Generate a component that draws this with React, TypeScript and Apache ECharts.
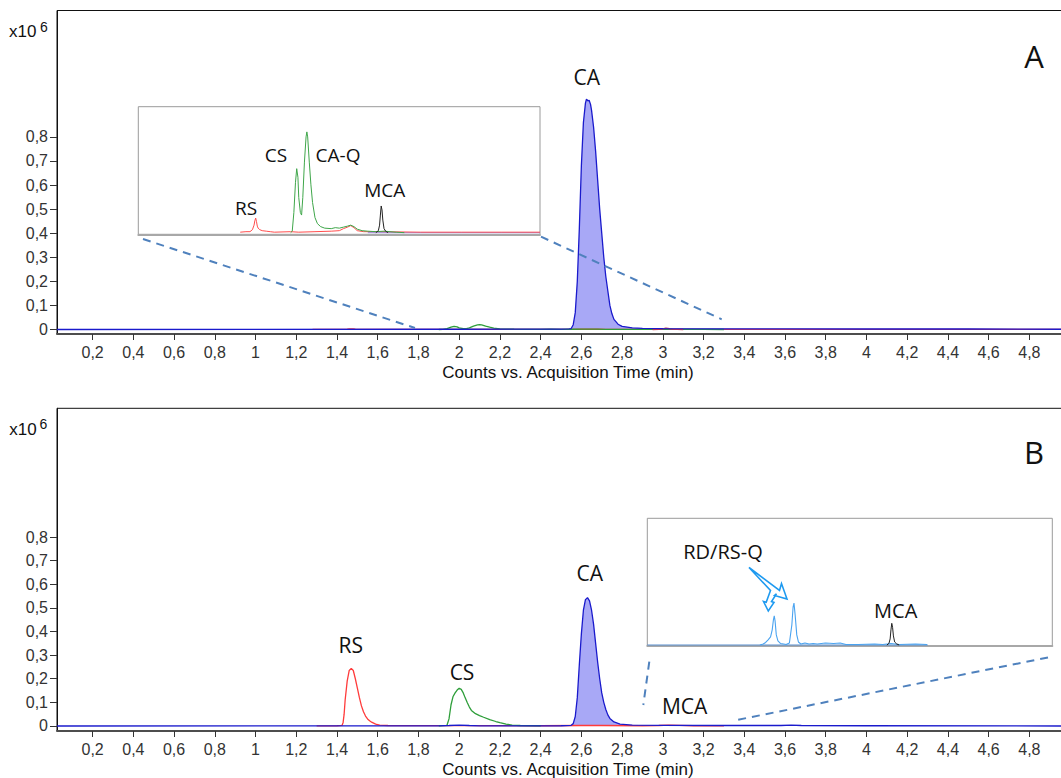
import React, { useEffect, useRef } from "react";
import * as echarts from "echarts";

// ---------- data ----------
const X_MIN = 0.025;
const X_MAX = 4.97;
const xTicks = [0.2, 0.4, 0.6, 0.8, 1, 1.2, 1.4, 1.6, 1.8, 2, 2.2, 2.4, 2.6, 2.8, 3, 3.2, 3.4, 3.6, 3.8, 4, 4.2, 4.4, 4.6, 4.8];
const yTicks = [0, 0.1, 0.2, 0.3, 0.4, 0.5, 0.6, 0.7, 0.8];

// Panel A (x10^6 counts)
const caA: [number, number][] = [
  [0.025, 0], [1.0, 0.0005], [2.0, 0.001], [2.5, 0.0015], [2.54, 0.003], [2.55, 0.004], [2.56, 0.02], [2.57, 0.07],
  [2.58, 0.2], [2.59, 0.42], [2.6, 0.68], [2.61, 0.86], [2.62, 0.94], [2.625, 0.957], [2.632, 0.95], [2.638, 0.952],
  [2.645, 0.935], [2.65, 0.91], [2.66, 0.84], [2.67, 0.74], [2.68, 0.62], [2.69, 0.5], [2.7, 0.4], [2.71, 0.3],
  [2.72, 0.22], [2.73, 0.16], [2.74, 0.1], [2.75, 0.065], [2.76, 0.042], [2.78, 0.022], [2.8, 0.013], [2.85, 0.007],
  [2.9, 0.005], [3.0, 0.004], [3.3, 0.003], [3.6, 0.003], [4.0, 0.002], [4.5, 0.002], [4.97, 0.001],
];
const rsA: [number, number][] = [
  [1.28, 0.0001], [1.35, 0.0002], [1.4, 0.0002], [1.43, 0.0006], [1.45, 0.0015], [1.46, 0.0024], [1.47, 0.0029],
  [1.48, 0.0022], [1.49, 0.0013], [1.5, 0.0009], [1.52, 0.0006], [1.55, 0.0004], [1.6, 0.0003], [1.65, 0.0002],
  [1.7, 0.0001], [1.9, 0.0002], [2.0, 0.0001], [2.2, 0.0002], [2.4, 0.0003], [2.5, 0.0004], [2.55, 0.0008],
  [2.6, 0.0011], [2.64, 0.0014], [2.68, 0.001], [2.72, 0.0004], [2.8, 0.0002], [3.0, 0.0002], [3.5, 0.0001],
  [4.0, 0.0001], [4.5, 0.0001], [4.97, 0.0001],
];
const csCaqA: [number, number][] = [
  [1.9, 0], [1.92, 0.0003], [1.94, 0.004], [1.96, 0.01], [1.975, 0.0127], [1.99, 0.011], [2.0, 0.007], [2.02, 0.004],
  [2.035, 0.0035], [2.05, 0.007], [2.07, 0.014], [2.09, 0.019], [2.1, 0.02], [2.11, 0.019], [2.13, 0.014],
  [2.15, 0.0095], [2.17, 0.006], [2.2, 0.003], [2.23, 0.0018], [2.27, 0.0012], [2.32, 0.0009], [2.4, 0.0008],
  [2.45, 0.001], [2.5, 0.0009], [2.55, 0.0011], [2.6, 0.0013], [2.64, 0.0015], [2.68, 0.0012], [2.72, 0.0007],
  [2.78, 0.0004], [2.85, 0.0003], [2.95, 0.0002], [3.05, 0.0003], [3.2, 0.0001], [3.3, 0],
];
const mcaA: [number, number][] = [
  [2.95, 0], [2.98, 0.0004], [2.995, 0.0015], [3.005, 0.0035], [3.015, 0.0053], [3.025, 0.0045], [3.035, 0.0025],
  [3.05, 0.0008], [3.07, 0.0003], [3.1, 0],
];
const insetBaseA: [number, number][] = [[2.85, 0], [4.97, 0]];

// Panel B (x10^6 counts)
const caB: [number, number][] = [
  [0.025, 0], [1.9, 0.0005], [1.95, 0.002], [2.0, 0.004], [2.05, 0.002], [2.1, 0.0008], [2.5, 0.001], [2.55, 0.003],
  [2.56, 0.01], [2.57, 0.04], [2.58, 0.12], [2.59, 0.26], [2.6, 0.39], [2.61, 0.49], [2.62, 0.535], [2.63, 0.543],
  [2.64, 0.53], [2.65, 0.49], [2.66, 0.43], [2.67, 0.35], [2.68, 0.27], [2.69, 0.2], [2.7, 0.14], [2.71, 0.1],
  [2.72, 0.07], [2.73, 0.047], [2.74, 0.032], [2.76, 0.017], [2.79, 0.008], [2.85, 0.004], [3.0, 0.003],
  [3.3, 0.002], [3.58, 0.002], [3.63, 0.004], [3.68, 0.002], [4.0, 0.001], [4.97, 0],
];
const rsB: [number, number][] = [
  [1.3, 0.0005], [1.4, 0.001], [1.425, 0.003], [1.43, 0.015], [1.435, 0.05], [1.44, 0.11], [1.45, 0.19],
  [1.46, 0.235], [1.47, 0.244], [1.48, 0.235], [1.49, 0.2], [1.5, 0.16], [1.51, 0.12], [1.52, 0.085],
  [1.53, 0.06], [1.54, 0.042], [1.55, 0.03], [1.56, 0.022], [1.57, 0.016], [1.59, 0.008], [1.61, 0.004],
  [1.65, 0.002], [1.8, 0.0015], [2.0, 0.0015], [2.4, 0.001], [2.6, 0.002], [2.7, 0.002], [2.9, 0.001],
  [2.98, 0.002], [3.03, 0.004], [3.08, 0.003], [3.15, 0.001], [3.3, 0.0005],
];
const csB: [number, number][] = [
  [1.9, 0.001], [1.94, 0.003], [1.95, 0.03], [1.96, 0.09], [1.97, 0.125], [1.98, 0.14], [1.99, 0.152], [2.0, 0.16],
  [2.01, 0.155], [2.02, 0.14], [2.03, 0.118], [2.04, 0.098], [2.05, 0.08], [2.06, 0.066], [2.08, 0.052],
  [2.1, 0.044], [2.12, 0.037], [2.15, 0.027], [2.18, 0.019], [2.2, 0.014], [2.23, 0.008], [2.26, 0.004],
  [2.3, 0.002], [2.4, 0.001],
];
const rdRsqB: [number, number][] = [
  [1.4, 0], [1.44, 0.0002], [1.47, 0.0005], [1.5, 0.001], [1.53, 0.0016], [1.55, 0.003], [1.565, 0.005],
  [1.575, 0.0058], [1.585, 0.0048], [1.6, 0.002], [1.62, 0.0008], [1.65, 0.0003], [1.69, 0.0002], [1.72, 0.0001],
  [1.76, 0.0004], [1.79, 0.004], [1.805, 0.0075], [1.816, 0.0083], [1.83, 0.006], [1.85, 0.002], [1.87, 0.0006],
  [1.9, 0.0002], [1.95, 0.0004], [2.0, 0.0002], [2.05, 0.0003], [2.1, 0.0002], [2.2, 0.0004], [2.3, 0.0003],
  [2.38, 0.0004], [2.45, 0.0001], [2.6, 0.0001], [2.8, 0.0002], [2.9, 0.0001], [3.0, 0.0003], [3.1, 0.0001],
  [3.3, 0.0002], [3.44, 0.0001],
];
const mcaB: [number, number][] = [
  [2.95, 0], [2.975, 0.0003], [2.99, 0.0012], [3.0, 0.003], [3.01, 0.0043], [3.02, 0.0035], [3.03, 0.0018],
  [3.045, 0.0006], [3.07, 0.0002], [3.1, 0],
];
const insetBaseB: [number, number][] = [[0.025, 0], [3.45, 0]];

// ---------- helpers ----------
const TICK_FONT = "Liberation Sans, Arial, sans-serif";
const LABEL_FONT = "Open Sans, Noto Sans, sans-serif";
const fmt = (v: number) => String(Math.round(v * 10) / 10).replace(".", ",");

const mainX = (gridIndex: number) => ({
  type: "value", gridIndex, min: X_MIN, max: X_MAX,
  axisLine: { show: true, onZero: false, lineStyle: { color: "#4d4d4d", width: 2 } },
  axisTick: { show: true, length: 6, customValues: xTicks, lineStyle: { color: "#333" } },
  axisLabel: { show: true, customValues: xTicks, margin: 10, fontFamily: TICK_FONT, fontSize: 16, color: "#333", formatter: fmt },
  splitLine: { show: false },
});
const mainY = (gridIndex: number, min: number, max: number) => ({
  type: "value", gridIndex, min, max,
  axisLine: { show: true, onZero: false, lineStyle: { color: "#111", width: 1 } },
  axisTick: { show: true, length: 7, customValues: yTicks, lineStyle: { color: "#333" } },
  axisLabel: { show: true, customValues: yTicks, margin: 9, fontFamily: TICK_FONT, fontSize: 16, color: "#333", formatter: fmt },
  splitLine: { show: false },
});
const insetX = (gridIndex: number) => ({
  type: "value", gridIndex, min: X_MIN, max: X_MAX,
  axisLine: { show: true, onZero: false, lineStyle: { color: "#a8a8a8", width: 2 } },
  axisTick: { show: false }, axisLabel: { show: false }, splitLine: { show: false },
});
const insetY = (gridIndex: number, min: number, max: number) => ({
  type: "value", gridIndex, min, max, show: false, splitLine: { show: false },
});
const line = (data: [number, number][], xi: number, color: string, width = 1.3, area?: string) => ({
  type: "line", data, xAxisIndex: xi, yAxisIndex: xi, showSymbol: false, symbol: "none", silent: true,
  lineStyle: { color, width }, itemStyle: { color },
  ...(area ? { areaStyle: { color: area, origin: 0, opacity: 1 } } : {}),
});

const txt = (text: string, x: number, y: number, size: number, font = LABEL_FONT, align = "center") => ({
  type: "text", z: 20,
  style: { text, x, y, font: `${size}px ${font}`, fill: "#111", align, textAlign: align, verticalAlign: "middle", textVerticalAlign: "middle" },
});
const dash = (x1: number, y1: number, x2: number, y2: number) => ({
  type: "line", z: 15,
  shape: { x1, y1, x2, y2 },
  style: { stroke: "#4f81bd", lineWidth: 2, lineDash: [8, 6] },
});

export default function App() {
  const ref = useRef<HTMLDivElement>(null);
  useEffect(() => {
    if (!ref.current) return;
    const chart = echarts.init(ref.current, null, { renderer: "svg" });
    const option: any = {
      animation: false,
      backgroundColor: "#fff",
      grid: [
        { left: 57, top: 10.5, width: 1007, height: 323.5, show: true, borderColor: "#111", borderWidth: 1, backgroundColor: "transparent", outerBoundsMode: "none", containLabel: false },
        { left: 138.3, top: 106.7, width: 401.7, height: 127.6, show: true, borderColor: "#9a9a9a", borderWidth: 1, backgroundColor: "#fff", outerBoundsMode: "none", containLabel: false },
        { left: 57, top: 408.3, width: 1007, height: 322.7, show: true, borderColor: "#111", borderWidth: 1, backgroundColor: "transparent", outerBoundsMode: "none", containLabel: false },
        { left: 647.3, top: 518.3, width: 405, height: 127.7, show: true, borderColor: "#9a9a9a", borderWidth: 1, backgroundColor: "#fff", outerBoundsMode: "none", containLabel: false },
      ],
      xAxis: [mainX(0), insetX(1), mainX(2), insetX(3)],
      yAxis: [
        mainY(0, -0.0187, 1.325),
        insetY(1, -0.00032, 0.025),
        mainY(2, -0.0212, 1.3448),
        insetY(3, -0.0002, 0.02514),
      ],
      series: [
        // main A
        line(rsA, 0, "#ff3b3b"),
        line(csCaqA, 0, "#2e9e3a"),
        line(mcaA, 0, "#cc3344"),
        line(caA, 0, "#1a1acc", 1.3, "rgba(88,88,238,0.52)"),
        // inset A
        line(insetBaseA, 1, "#8f8ff5", 1),
        line(rsA, 1, "#ff4d4d", 1),
        line(csCaqA, 1, "#3fa64a", 1),
        line(mcaA, 1, "#222", 1),
        // main B
        line(rsB, 2, "#ff3b3b"),
        line(csB, 2, "#2e9e3a"),
        line(caB, 2, "#1a1acc", 1.3, "rgba(88,88,238,0.52)"),
        // inset B
        line(insetBaseB, 3, "#5b8fd0", 1.2),
        line(rdRsqB, 3, "#4aa3f0", 1.1),
        line(mcaB, 3, "#222", 1),
      ],
      graphic: [
        // Panel A
        txt("x10", 9, 31.7, 17, TICK_FONT, "left"),
        txt("6", 40, 26.8, 14, TICK_FONT, "left"),
        txt("Counts vs. Acquisition Time (min)", 568, 372, 17, TICK_FONT),
        txt("A", 1034, 56, 31),
        txt("CA", 586.7, 77, 21),
        txt("RS", 246, 208, 19),
        txt("CS", 276, 155, 19),
        txt("CA-Q", 338, 155, 19),
        txt("MCA", 384.7, 190, 19),
        dash(143, 239, 415, 328),
        dash(541, 236.7, 721.7, 319.3),
        // Panel B
        txt("x10", 9.3, 429.2, 17, TICK_FONT, "left"),
        txt("6", 39.5, 423.8, 14, TICK_FONT, "left"),
        txt("Counts vs. Acquisition Time (min)", 568, 769, 17, TICK_FONT),
        txt("B", 1034, 452, 31),
        txt("RS", 350.8, 645, 21),
        txt("CS", 462, 671.5, 21),
        txt("CA", 589.7, 572.5, 21),
        txt("MCA", 684.7, 705.7, 21),
        txt("RD/RS-Q", 723, 551.7, 20),
        txt("MCA", 895.7, 610, 20),
        dash(649.3, 661.7, 643.3, 705),
        dash(1048, 657.5, 736.7, 720),
        {
          type: "polygon", z: 18,
          shape: {
            points: [
              [749, 567.5], [779.5, 590.5], [781.5, 583.5], [787, 599], [774.5, 595.5], [776.5, 593.8],
              [771.5, 601.5], [774, 602.5], [768.3, 611], [763.5, 601.5], [766.2, 602.2], [770.5, 590.5],
            ],
          },
          style: { fill: "#fff", stroke: "#1e9af0", lineWidth: 1.6 },
        },
      ],
    };
    chart.setOption(option);
    return () => chart.dispose();
  }, []);
  return (
    <div
      ref={ref}
      style={{ position: "absolute", left: 0, top: 0, width: 1061, height: 778, background: "#fff" }}
    />
  );
}
